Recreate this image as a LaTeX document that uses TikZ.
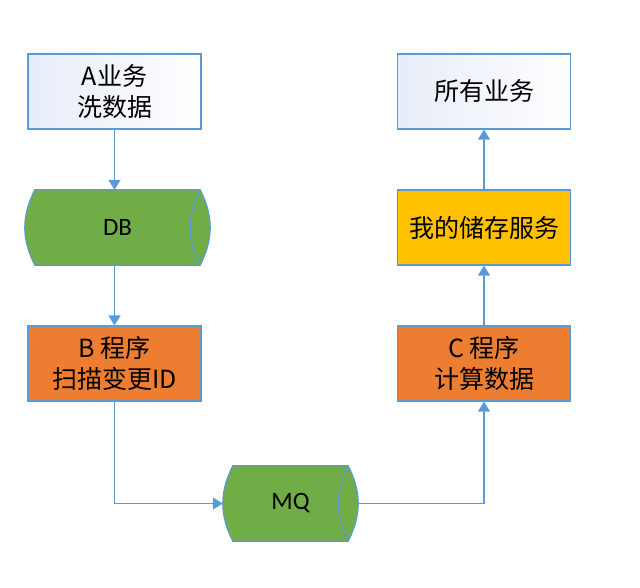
\documentclass[tikz,border=0pt]{standalone}
\usepackage{fontspec}
\setmainfont{Noto Sans CJK SC}
\newfontfamily\latinfont{Carlito}
\usetikzlibrary{arrows.meta,backgrounds}
\definecolor{lineblue}{HTML}{5B9BD5}
\definecolor{dbgreen}{HTML}{70AD47}
\definecolor{boxorange}{HTML}{ED7D31}
\definecolor{boxyellow}{HTML}{FFC000}
\definecolor{paleblue}{HTML}{E6ECF7}
\tikzset{
  box/.style={draw=lineblue, line width=1.2pt, minimum width=173pt, minimum height=75pt,
    align=center, font=\fontsize{25}{31}\selectfont, inner sep=0pt},
  lightbox/.style={box, left color=paleblue, right color=white},
  drum/.style={minimum height=75pt, inner sep=0pt, font=\latinfont\fontsize{25}{30}\selectfont},
  drumline/.style={draw=lineblue, line width=1.2pt, fill=dbgreen},
  flow/.style={draw=lineblue, line width=1.5pt, -{Triangle[width=12pt,length=10pt]}}
}
% outline of a lying cylinder round node #1
\newcommand\drumoutline[1]{
  \filldraw[drumline] (#1.north west) to[bend right=27] (#1.south west) -- (#1.south east)
    to[bend right=27] (#1.north east) -- cycle;
  \draw[drumline, fill=none] (#1.north east) to[bend right=27] (#1.south east);
}
\begin{document}
\begin{tikzpicture}[x=1pt, y=-1pt]
\useasboundingbox (0,0) rectangle (640,588);
% left column
\node[lightbox] (abiz) at (114.5,91.5) {A业务\\洗数据};
\node[drum, minimum width=165pt] (db) at (117.5,227.5) {DB};
\node[box, fill=boxorange] (bprog) at (114.5,363.5) {B 程序\\扫描变更ID};
% queue
\node[drum, minimum width=115pt] (mq) at (290.5,503.5) {MQ};
% right column
\node[box, fill=boxorange] (cprog) at (484,363.5) {C 程序\\计算数据};
\node[box, fill=boxyellow] (store) at (484,227.5) {我的储存服务};
\node[lightbox] (allbiz) at (484,91.5) {所有业务};
\begin{scope}[on background layer]
\drumoutline{db}
\drumoutline{mq}
\end{scope}
% connectors
\draw[flow] (abiz.south) -- (abiz.south |- db.north);
\draw[flow] (abiz.south |- db.south) -- (bprog.north);
\draw[flow] (bprog.south) |- ([xshift=-10pt]mq.west);
\draw[flow] (mq.east) -| (cprog.south);
\draw[flow] (cprog.north) -- (store.south);
\draw[flow] (store.north) -- (allbiz.south);
\end{tikzpicture}
\end{document}
